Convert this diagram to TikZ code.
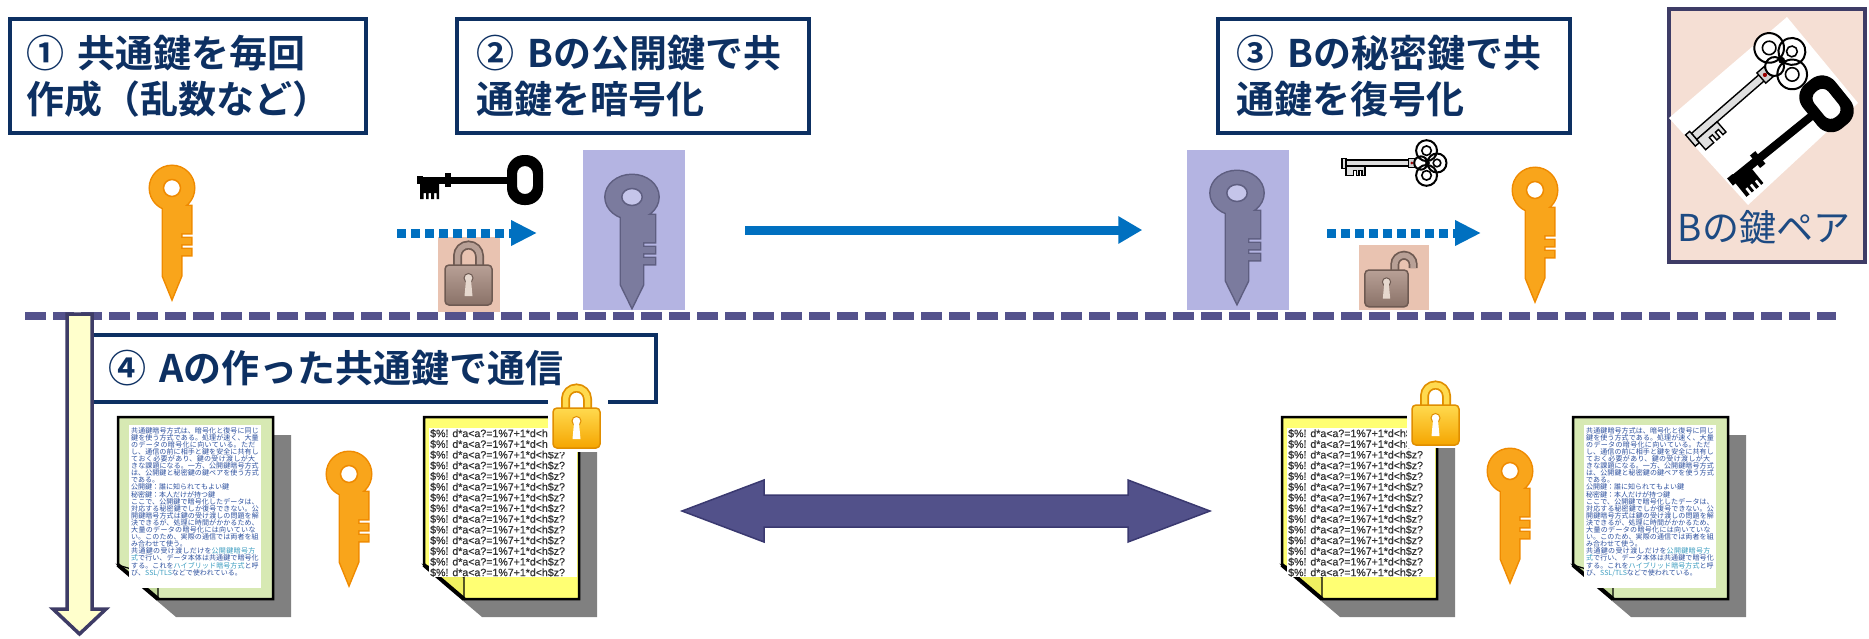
\documentclass[tikz,border=0pt]{standalone}
\usepackage{fontspec}
\usetikzlibrary{arrows.meta,positioning}
\newfontfamily\jp{Noto Sans CJK JP}
\newfontfamily\jpb{Noto Sans CJK JP Bold}
\newfontfamily\crypt{Liberation Sans}[FakeBold=0.6]

\definecolor{navy}{HTML}{0D3062}
\definecolor{pairline}{HTML}{3E3C66}
\definecolor{pairfill}{HTML}{F5DFD4}
\definecolor{pairtext}{HTML}{1D4A82}
\definecolor{sepline}{HTML}{54528C}
\definecolor{flow}{HTML}{0070C0}
\definecolor{both}{HTML}{52518A}
\definecolor{bothline}{HTML}{3A3970}
\definecolor{downfill}{HTML}{FFFFCC}
\definecolor{keyorange}{HTML}{F9A51B}
\definecolor{keyedge}{HTML}{EF8A00}
\definecolor{keygray}{HTML}{7B7B9E}
\definecolor{keygrayedge}{HTML}{5E5E80}
\definecolor{keyhole}{HTML}{C5C5EA}
\definecolor{lav}{HTML}{B4B4E2}
\definecolor{peach}{HTML}{E9C3B1}
\definecolor{lockhi}{HTML}{B8A096}
\definecolor{locklo}{HTML}{8A7268}
\definecolor{lockedge}{HTML}{6E5A52}
\definecolor{lockhole}{HTML}{E6D8CE}
\definecolor{goldhi}{HTML}{FFDA4F}
\definecolor{goldlo}{HTML}{F5A500}
\definecolor{goldedge}{HTML}{E08E00}
\definecolor{docg}{HTML}{D7E9B3}
\definecolor{docgd}{HTML}{C2D89A}
\definecolor{docy}{HTML}{FFFF73}
\definecolor{docyd}{HTML}{F0F060}
\definecolor{docshade}{HTML}{808080}
\definecolor{plainblue}{HTML}{2B4F9E}
\definecolor{plaincyan}{HTML}{3A9CC0}

\newcommand\garble{\$\%! d*a<a?=1\%7+1*d<h\$z?}
\newcommand\ciphertext{\garble\\\garble\\\garble\\\garble\\\garble\\\garble\\\garble\\
  \garble\\\garble\\\garble\\\garble\\\garble\\\garble\\\garble}
\newcommand\plaintext{\XeTeXlinebreaklocale "ja"\XeTeXlinebreakskip=0pt plus 1pt
  共通鍵暗号方式は、暗号化と復号に同じ鍵を使う方式である。処理が速く、大量のデータの暗号化に向いている。ただし、通信の前に相手と鍵を安全に共有しておく必要があり、鍵の受け渡しが大きな課題になる。一方、公開鍵暗号方式は、公開鍵と秘密鍵の鍵ペアを使う方式である。\par
  公開鍵：誰に知られてもよい鍵\par
  秘密鍵：本人だけが持つ鍵\par
  ここで、公開鍵で暗号化したデータは、対応する秘密鍵でしか復号できない。公開鍵暗号方式は鍵の受け渡しの問題を解決できるが、処理に時間がかかるため、大量のデータの暗号化には向いていない。このため、実際の通信では両者を組み合わせて使う。\par
  共通鍵の受け渡しだけを\textcolor{plaincyan}{公開鍵暗号方式}で行い、データ本体は共通鍵で暗号化する。これを\textcolor{plaincyan}{ハイブリッド暗号方式}と呼び、\textcolor{plaincyan}{SSL/TLS}などで使われている。}

\tikzset{
  keyshape/.style={insert path={(-9,18) -- (-9,88) -- (0,110) -- (9,88) -- (9,67) -- (19,67) -- (19,61)
    -- (9,61) -- (9,56) -- (19,56) -- (19,50) -- (9,50) -- (9,45) -- (19,45) -- (19,18) -- cycle}},
  pics/flatkey/.style n args={3}{code={
    \path[draw=#2,line width=3] (0,0) circle[radius=22] [keyshape];
    \path[fill=#1] (0,0) circle[radius=22];
    \path[fill=#1] [keyshape];
    \path[fill=#3,draw=#2,line width=1.5] (0,0) circle[radius=8.5];
  }},
  pics/padlock/.style n args={4}{code={
    \draw[#3,line width=9] (-11,3) -- (-11,-9) arc[start angle=180,end angle=360,radius=11] -- (11,3);
    \draw[#1,line width=5.5] (-11,3) -- (-11,-9) arc[start angle=180,end angle=360,radius=11] -- (11,3);
    \path[top color=#1,bottom color=#2,draw=#3,line width=1.5,rounded corners=4] (-23.5,0) rectangle (23.5,40);
    \path[fill=#4,draw=#3,line width=1] (0,13) circle[radius=4.5];
    \path[fill=#4] (-2.4,14) -- (-4,31) -- (4,31) -- (2.4,14) -- cycle;
  }},
  pics/openlock/.style n args={4}{code={
    \draw[#3,line width=9] (9,3) -- (9,-6) arc[start angle=180,end angle=360,radius=10] -- (29,-2);
    \draw[#1,line width=5.5] (9,3) -- (9,-6) arc[start angle=180,end angle=360,radius=10] -- (29,-2);
    \path[top color=#1,bottom color=#2,draw=#3,line width=1.5,rounded corners=4] (-23.5,0) rectangle (23.5,40);
    \path[fill=#4,draw=#3,line width=1] (0,13) circle[radius=4.5];
    \path[fill=#4] (-2.4,14) -- (-4,31) -- (4,31) -- (2.4,14) -- cycle;
  }},
  pics/blackkey/.style={code={
    \fill[black] (0,-4) rectangle (6,4);
    \fill[black] (4,-3.5) rectangle (94,3.5);
    \fill[black] (28,-7) rectangle (34,7);
    \fill[black] (3,0) -- (22,0) -- (22,19) -- (19.5,19) -- (19.5,13) -- (17,13) -- (17,19) -- (14,19)
      -- (14,13) -- (11.5,13) -- (11.5,19) -- (9,19) -- (9,13) -- (6.5,13) -- (6.5,19) -- (3,19) -- cycle;
    \fill[black,even odd rule] [rounded corners=17] (90,-25) rectangle (126,25)
      [rounded corners=8] (100,-14) rectangle (116,14);
  }},
  pics/fancykey/.style={code={
    \filldraw[fill=gray!25,draw=black,line width=1.4] (4,-3) rectangle (76,3);
    \filldraw[fill=gray!25,draw=black,line width=1.4] (0,-5) rectangle (4,6);
    \filldraw[fill=gray!25,draw=black,line width=1.4] (4,3) -- (24,3) -- (24,13) -- (21,13) -- (21,8)
      -- (18,8) -- (18,13) -- (15,13) -- (15,8) -- (12,8) -- (12,13) -- (4,13) -- cycle;
    \filldraw[fill=gray!35,draw=black,line width=1.4] (70,-5) rectangle (77,5);
    \fill[red!60!black] (73.5,0) circle[radius=1.6];
    \filldraw[fill=white,draw=black,line width=2] (89,-13) circle[radius=11] (89,13) circle[radius=11]
      (100,0) circle[radius=10] (83,0) circle[radius=7];
    \draw[line width=1.6] (89,-13) circle[radius=5] (89,13) circle[radius=5] (100,0) circle[radius=4];
    \fill (90,0) circle[radius=2.5];
  }},
  pics/doc/.style n args={3}{code={
    \fill[docshade] (18,18) -- (173,18) -- (173,200) -- (58,200) -- (18,166) -- cycle;
    \filldraw[fill=#1,draw=black,line width=2.5] (0,0) -- (155,0) -- (155,182) -- (40,182) -- (0,148) -- cycle;
    \filldraw[fill=#2,draw=black,line width=1.2] (0,148) -- (40,160) -- (40,182) -- cycle;
    \draw[line width=4] (0,148) -- (40,182);
    \fill[white] #3;
  }}
}

\begin{document}
\begin{tikzpicture}[x=1pt,y=-1pt,
  t/.style={draw=navy,line width=3.5,text=navy,font=\jpb\fontsize{38}{46}\selectfont,align=left,
    anchor=north west,inner ysep=0},
  lav/.style={fill=lav,minimum width=102,minimum height=160,inner sep=0},
  pch/.style={fill=peach,inner sep=0},
  sep/.style={sepline,line width=8,dash pattern=on 21pt off 7pt},
  dots/.style={flow,line width=9,dash pattern=on 9pt off 5pt,-{Triangle[length=26pt,width=24pt]}},
  go/.style={flow,line width=9,-{Triangle[length=24pt,width=26pt]},shorten <=60,shorten >=44},
  plain/.style={anchor=north west,text width=129,inner sep=0,align=left,text=plainblue,
    font=\jp\fontsize{7}{7.1}\selectfont},
  ctext/.style={anchor=north west,inner sep=0,align=left,text=black!80,
    font=\crypt\fontsize{10.6}{10.7}\selectfont}]
\useasboundingbox (0,0) rectangle (1869,638);

% step titles
\node[t,text width=322,inner xsep=17,minimum height=114] (t1) at (8,17) {① 共通鍵を毎回\\作成（乱数など）};
\node[t,text width=312,inner xsep=20,minimum height=114] (t2) at (455,17) {② Bの公開鍵で共\\通鍵を暗号化};
\node[t,text width=314,inner xsep=19,minimum height=114] (t3) at (1216,17) {③ Bの秘密鍵で共\\通鍵を復号化};

% B's key pair
\node[draw=pairline,fill=pairfill,line width=4,minimum width=196,minimum height=253,anchor=north west,inner sep=0]
  (kp) at (1667,7) {};
\fill[white] (1787,17) -- (1858,103) -- (1748,205) -- (1669,118) -- cycle;
\pic[rotate=41,scale=1.35] at (1690,140) {fancykey};
\pic[rotate=39,scale=1.15] at (1730,182) {blackkey};
\node[font=\jp\fontsize{37}{40}\selectfont,text=pairtext,inner sep=0] (kpt) at (1764,227) {Bの鍵ペア};

% upper row
\pic at (172,188) {flatkey={keyorange}{keyedge}{white}};
\pic at (417,180) {blackkey};
\node[pch,minimum width=62,minimum height=75] (lb1) at (469,274.5) {};
\pic at (468.5,265) {padlock={lockhi}{locklo}{lockedge}{lockhole}};
\coordinate (d1s) at (397,233);
\coordinate (d1e) at (537,233);
\draw[dots] (d1s) -- (d1e);
\node[lav] (kb1) at (634,230) {};
\pic[xscale=1.2] at (632,197) {flatkey={keygray}{keygrayedge}{keyhole}};
\node[lav] (kb2) at (1237.5,230) {};
\pic[xscale=1.2] at (1237,193) {flatkey={keygray}{keygrayedge}{keyhole}};
\draw[go] (kb1) -- (kb2);
\pic[scale=0.95] at (1342,163) {fancykey};
\node[pch,minimum width=70,minimum height=65] (lb2) at (1394,277.5) {};
\pic[scale=0.92] at (1386.5,270) {openlock={lockhi}{locklo}{lockedge}{lockhole}};
\coordinate (d2s) at (1327,233);
\coordinate (d2e) at (1481,233);
\draw[dots] (d2s) -- (d2e);
\pic at (1535,190) {flatkey={keyorange}{keyedge}{white}};

\draw[sep] (25,316) -- (1836,316);

% lower row
\node[t,text width=520,inner xsep=27,minimum height=67] (t4) at (80,333) {④ Aの作った共通鍵で通信};
\draw[fill=downfill,draw=pairline,line width=3.5] (67,314) -- (92,314) -- (92,609) -- (106,609) -- (79.5,634)
  -- (53,609) -- (67,609) -- cycle;

\pic at (118,417) {doc={docg}{docgd}{(11,8) rectangle (143,171)}};
\node[plain] (p1) at (131,427) {\plaintext};
\pic at (349,474) {flatkey={keyorange}{keyedge}{white}};
\pic at (424,417) {doc={docy}{docyd}{(5,11) rectangle (153,160)}};
\node[ctext] (c1) at (430,429) {\ciphertext};
\fill[white] (548,396) rectangle (608,452);
\pic at (576.5,408) {padlock={goldhi}{goldlo}{goldedge}{white}};

\filldraw[fill=both,draw=bothline,line width=1.5] (682,511) -- (764,480) -- (764,495) -- (1128,495) -- (1128,480)
  -- (1210,511) -- (1128,542) -- (1128,527) -- (764,527) -- (764,542) -- cycle;

\pic at (1282,417) {doc={docy}{docyd}{(5,11) rectangle (153,160)}};
\node[ctext] (c2) at (1288,429) {\ciphertext};
\fill[white] (1407,398) rectangle (1465,448);
\pic at (1435.5,405) {padlock={goldhi}{goldlo}{goldedge}{white}};
\pic at (1510,471) {flatkey={keyorange}{keyedge}{white}};
\pic at (1573,417) {doc={docg}{docgd}{(11,8) rectangle (143,171)}};
\node[plain] (p2) at (1586,427) {\plaintext};
\end{tikzpicture}
\end{document}
